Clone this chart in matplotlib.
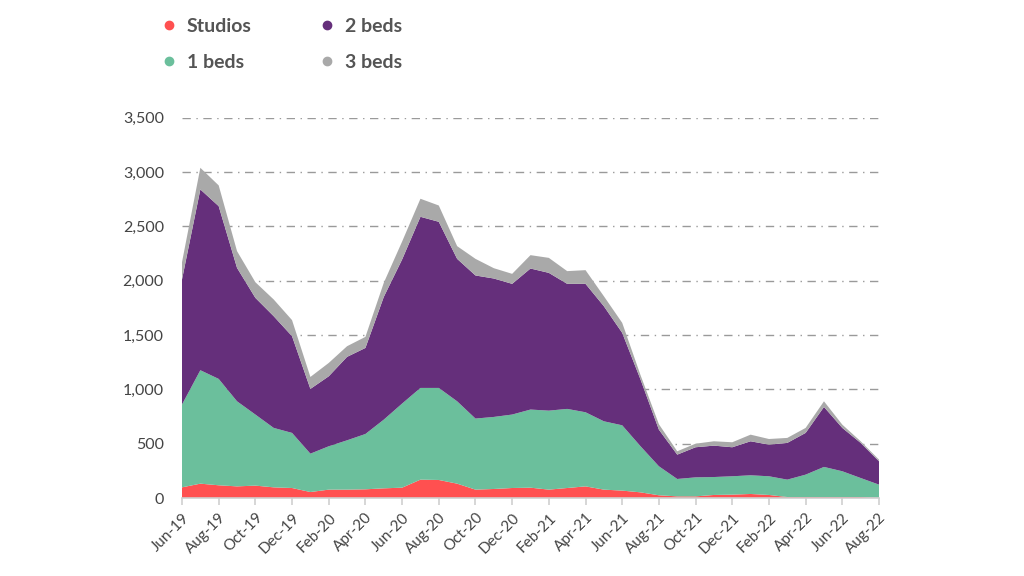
import matplotlib
matplotlib.use("Agg")
import matplotlib.pyplot as plt
from matplotlib.lines import Line2D
import numpy as np

months = ["Jun-19", "Jul-19", "Aug-19", "Sep-19", "Oct-19", "Nov-19", "Dec-19", "Jan-20",
          "Feb-20", "Mar-20", "Apr-20", "May-20", "Jun-20", "Jul-20", "Aug-20", "Sep-20",
          "Oct-20", "Nov-20", "Dec-20", "Jan-21", "Feb-21", "Mar-21", "Apr-21", "May-21",
          "Jun-21", "Jul-21", "Aug-21", "Sep-21", "Oct-21", "Nov-21", "Dec-21", "Jan-22",
          "Feb-22", "Mar-22", "Apr-22", "May-22", "Jun-22", "Jul-22", "Aug-22"]

studios = [98, 132, 117, 107, 114, 98, 92, 55, 77, 77, 80, 89, 95, 169, 166, 132, 77, 83,
           92, 95, 77, 92, 107, 77, 68, 52, 25, 15, 15, 28, 31, 37, 28, 9, 9, 9, 9, 9, 2]
beds1 = [762, 1044, 979, 783, 654, 547, 507, 353, 399, 454, 509, 632, 774, 844, 847, 758,
         654, 663, 676, 719, 727, 728, 682, 629, 601, 424, 267, 160, 175, 165, 169, 172,
         172, 160, 206, 277, 237, 175, 121]
beds2 = [1151, 1664, 1590, 1228, 1074, 1028, 890, 596, 644, 768, 792, 1129, 1326, 1575,
         1529, 1311, 1317, 1274, 1203, 1298, 1268, 1151, 1182, 1059, 851, 614, 337, 224,
         277, 289, 267, 313, 291, 338, 384, 552, 399, 323, 215]
beds3 = [159, 199, 191, 154, 144, 154, 148, 110, 123, 98, 102, 130, 165, 166, 150, 117,
         153, 95, 92, 123, 138, 117, 126, 92, 92, 40, 50, 31, 33, 40, 46, 61, 52, 46, 46,
         52, 30, 15, 15]

series_names = ["Studios", "1 beds", "2 beds", "3 beds"]
colors = ["#FF5050", "#6BBF9C", "#652F7B", "#A9A9A9"]
yticks = [0, 500, 1000, 1500, 2000, 2500, 3000, 3500]

plt.rcParams["font.family"] = ["Lato", "DejaVu Sans"]

fig = plt.figure(figsize=(10.24, 5.76), dpi=100)
ax = fig.add_axes([182 / 1024, 1 - 498 / 576, (879 - 182) / 1024, (498 - 117.7) / 576])

x = np.arange(len(months))
ax.stackplot(x, studios, beds1, beds2, beds3, colors=colors, labels=series_names,
             linewidth=0, zorder=2)

ax.set_xlim(0, len(months) - 1)
ax.set_ylim(0, 3500)
ax.set_yticks(yticks)
ax.set_yticklabels([f"{v:,}" for v in yticks])
ax.set_xticks(x[::2])
ax.set_xticklabels(months[::2], rotation=45, ha="right", rotation_mode="anchor")

ax.yaxis.grid(True, color="#9a9a9a", linestyle=(0, (6, 4, 1, 4)), linewidth=1.0, zorder=1)
ax.set_axisbelow(True)
gl = ax.yaxis.get_gridlines()
gl[0].set_visible(False)

for side in ["top", "right", "left"]:
    ax.spines[side].set_visible(False)
ax.spines["bottom"].set_color("#cfcfcf")
ax.spines["bottom"].set_linewidth(1.2)

ax.tick_params(axis="y", length=0, pad=13, labelsize=11.5, labelcolor="#444444")
ax.tick_params(axis="x", length=5, width=1.2, color="#cfcfcf", pad=4, labelsize=11,
               labelcolor="#444444")

handles = [Line2D([0], [0], marker="o", linestyle="", markersize=6,
                  markerfacecolor=c, markeredgecolor=c) for c in colors]
leg = fig.legend(handles, series_names, ncol=2, loc="upper left",
                 bbox_to_anchor=(142 / 1024, 1.0), frameon=False,
                 prop={"weight": "bold", "size": 14}, handletextpad=0.4,
                 columnspacing=3.4, labelspacing=1.0, handlelength=1.0)
for t in leg.get_texts():
    t.set_color("#555555")

fig.savefig("out.png", dpi=100)
